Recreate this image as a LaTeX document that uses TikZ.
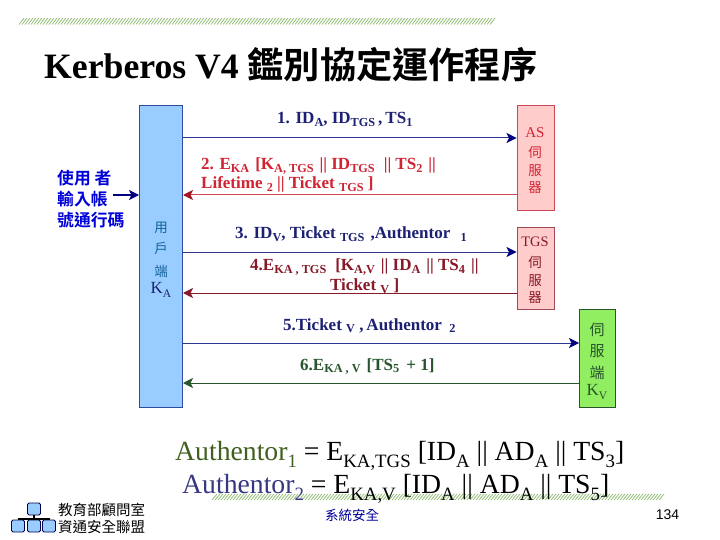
\documentclass[tikz,border=0pt]{standalone}
\usepackage{fontspec}
\setmainfont{Liberation Serif}
\newfontfamily\cjk{Noto Sans CJK TC}[BoldFont={Noto Sans CJK TC Bold}]
\newfontfamily\arialf{Liberation Sans}
\usetikzlibrary{arrows.meta}
\definecolor{navyline}{RGB}{45,55,145}
\definecolor{navyhead}{RGB}{0,0,128}
\definecolor{navytext}{RGB}{28,32,115}
\definecolor{redline}{RGB}{205,70,85}
\definecolor{redhead}{RGB}{165,20,35}
\definecolor{redtext}{RGB}{210,35,50}
\definecolor{maroon}{RGB}{135,25,40}
\definecolor{dgreen}{RGB}{40,85,45}
\definecolor{hatch}{RGB}{140,185,110}
\definecolor{clientfill}{RGB}{153,204,255}
\definecolor{clientedge}{RGB}{45,75,160}
\definecolor{srvfill}{RGB}{144,238,96}
\definecolor{authone}{RGB}{65,95,30}
\definecolor{authtwo}{RGB}{55,55,130}
\newcommand{\sbx}[1]{\raisebox{-.28em}{\fontsize{.68em}{.68em}\selectfont #1}}
\newcommand{\sbl}[1]{\raisebox{-.16em}{\fontsize{.72em}{.72em}\selectfont #1}}
\newcommand{\sby}[1]{\raisebox{-.22em}{\fontsize{.68em}{.68em}\selectfont #1}}
\newcommand{\gp}{\hspace{3pt}}
\tikzset{
  x=1pt,y=-1pt,
  party/.style={draw,line width=1pt,inner sep=0pt,minimum width=#1},
  lbl/.style={anchor=base west,inner sep=0pt,font=\fontsize{17}{19}\selectfont\bfseries},
  cj/.style={anchor=center,inner sep=0pt,font=\fontsize{13.5}{15}\selectfont\cjk},
  big/.style={anchor=base west,inner sep=0pt,font=\fontsize{27.7}{30}\selectfont},
  flow/.style={line width=1pt,-{Stealth[length=10pt,width=10pt,inset=2.5pt,color=#1]}},
  lgbox/.style={draw=black!70!blue,fill=clientfill,rounded corners=1.5pt,line width=.8pt,inner sep=0pt,minimum width=13pt,minimum height=12pt},
  hatchline/.style={draw=hatch,line width=.7pt},
  usr/.style={anchor=west,inner sep=0pt,text=blue!85!black,font=\fontsize{16.8}{18}\selectfont\bfseries\cjk}
}
\begin{document}
\begin{tikzpicture}
\useasboundingbox (0,0) rectangle (720,540);
\fill[white] (0,0) rectangle (720,540);
% hatched rules
\foreach \x in {19,22,...,491} \draw[hatchline] (\x,24.5) -- (\x+5,18);
\foreach \x in {212,215,...,661} \draw[hatchline] (\x,500) -- (\x+5,494);
% title
\node[anchor=base west,inner sep=0pt,font=\fontsize{35.7}{38}\selectfont\bfseries] (title) at (44,79) {Kerberos V4 {\cjk\fontsize{36.2}{38}\selectfont 鑑別協定運作程序}};
% parties
\node[party=43pt,minimum height=301pt,draw=clientedge,fill=clientfill] (client) at (161,256.5) {};
\node[party=37pt,minimum height=105pt,draw=redline,fill=red!20] (as) at (535.5,158.5) {};
\node[party=37pt,minimum height=81pt,draw=maroon!80,fill=red!20] (tgs) at (535.5,268.5) {};
\node[party=36pt,minimum height=98pt,draw=dgreen,fill=srvfill] (srv) at (597.5,358) {};
% party labels
\node[cj,text=navytext!70!cyan] (c1) at (161,228) {用};
\node[cj,text=navytext!70!cyan] (c2) at (161,248) {戶};
\node[cj,text=navytext!70!cyan] (c3) at (161,271) {端};
\node[lbl,anchor=center,font=\fontsize{17}{19}\selectfont,text=navytext] (c4) at (161,290) {K\sby{A}};
\node[lbl,anchor=center,font=\fontsize{15}{17}\selectfont,text=redtext] (a1) at (535,133) {AS};
\node[cj,text=redtext] (a2) at (535,152) {伺};
\node[cj,text=redtext] (a3) at (535,171) {服};
\node[cj,text=redtext] (a4) at (535,188) {器};
\node[lbl,anchor=center,font=\fontsize{14.5}{17}\selectfont,text=maroon] (t1) at (535,242) {TGS};
\node[cj,text=maroon] (t2) at (535,262) {伺};
\node[cj,text=maroon] (t3) at (535,281) {服};
\node[cj,text=maroon] (t4) at (535,298) {器};
\node[cj,text=dgreen,font=\fontsize{15}{17}\selectfont\cjk] (v1) at (597,330) {伺};
\node[cj,text=dgreen,font=\fontsize{15}{17}\selectfont\cjk] (v2) at (597,351) {服};
\node[cj,text=dgreen,font=\fontsize{15}{17}\selectfont\cjk] (v3) at (597,373) {端};
\node[lbl,anchor=center,font=\fontsize{17}{19}\selectfont,text=dgreen] (v4) at (597,392) {K\sby{V}};
% user input
\node[usr] (u1) at (57,178) {使用 者};
\node[usr] (u2) at (57,199) {輸入帳};
\node[usr] (u3) at (57,220) {號通行碼};
\coordinate (ustart) at (113,195);
\coordinate (y1) at (0,138);
\coordinate (y2) at (0,195);
\coordinate (y3) at (0,252);
\coordinate (y4) at (0,293);
\coordinate (y5) at (0,343);
\coordinate (y6) at (0,383);
\draw[flow=navyhead,draw=navyhead,line width=1.3pt] (ustart) -- (client.west |- ustart);
\draw[flow=navyhead,draw=navyline] (client.east |- y1) -- (as.west |- y1);
\draw[flow=redhead,draw=redline] (as.west |- y2) -- (client.east |- y2);
\draw[flow=navyhead,draw=navyline] (client.east |- y3) -- (tgs.west |- y3);
\draw[flow=maroon,draw=maroon] (tgs.west |- y4) -- (client.east |- y4);
\draw[flow=navyhead,draw=navyline] (client.east |- y5) -- (srv.west |- y5);
\draw[flow=dgreen,draw=dgreen] (srv.west |- y6) -- (client.east |- y6);
% message labels
\node[lbl,text=navytext] (m1) at (277,124) {1. ID\sbl{A}, ID\sbl{TGS}\gp ,\gp TS\sbl{1}};
\node[lbl,text=redtext] (m2a) at (201,169.5) {2. E\sbl{KA}\gp\gp [K\sbl{A, TGS}\gp\gp || ID\sbl{TGS}\gp\gp\gp || TS\sbl{2}\gp\gp ||};
\node[lbl,text=redtext] (m2b) at (201,188.5) {Lifetime \sbl{2} || Ticket \sbl{TGS} ]};
\node[lbl,text=navytext] (m3) at (235,239) {3. ID\sbl{V}, Ticket \sbl{TGS}\gp\gp ,Authentor\gp\gp\ \sbl{1}};
\node[lbl,text=maroon] (m4a) at (250,270.5) {4.E\sbl{KA , TGS}\gp\gp\gp [K\sbl{A,V}\gp\gp || ID\sbl{A}\gp\gp || TS\sbl{4}\gp\gp ||};
\node[lbl,text=maroon] (m4b) at (330,290.5) {Ticket \sbl{V} ]};
\node[lbl,text=navytext] (m5) at (283,330) {5.Ticket \sbl{V} ,\gp Authentor\gp\ \sbl{2}};
\node[lbl,text=dgreen] (m6) at (300,370) {6.E\sbl{KA , V}\gp\gp [TS\sbl{5}\gp\ + 1]};
% formulas
\node[big] (f1) at (175,460) {\textcolor{authone}{Authentor\sbx{1}} = E\sbx{KA,TGS} [ID\sbx{A} || AD\sbx{A} || TS\sbx{3}]};
\node[big] (f2) at (182,493) {\textcolor{authtwo}{Authentor\sbx{2}} = E\sbx{KA,V} [ID\sbx{A} || AD\sbx{A} || TS\sbx{5}]};
% footer
\node[inner sep=0pt,text=blue!60!black,font=\fontsize{13.5}{15}\selectfont\cjk] (foot) at (352,515) {系統安全};
\node[inner sep=0pt,font=\fontsize{14}{16}\selectfont\arialf] (page) at (667.5,515) {134};
% logo
\node[lgbox] (lt) at (34,509) {};
\node[lgbox] (l1) at (18,526) {};
\node[lgbox] (l2) at (34,526) {};
\node[lgbox] (l3) at (49,526) {};
\coordinate (lbarl) at (18,519);
\coordinate (lbarr) at (50,519);
\draw[line width=1.2pt] (lbarl) -- (lbarr);
\draw[line width=1.2pt] (lt.south) -- (l2.north);
\node[anchor=west,inner sep=0pt,font=\fontsize{14.5}{16}\selectfont\cjk] (lg1) at (58,510) {教育部顧問室};
\node[anchor=west,inner sep=0pt,font=\fontsize{14.5}{16}\selectfont\cjk] (lg2) at (58,527) {資通安全聯盟};
\end{tikzpicture}
\end{document}
